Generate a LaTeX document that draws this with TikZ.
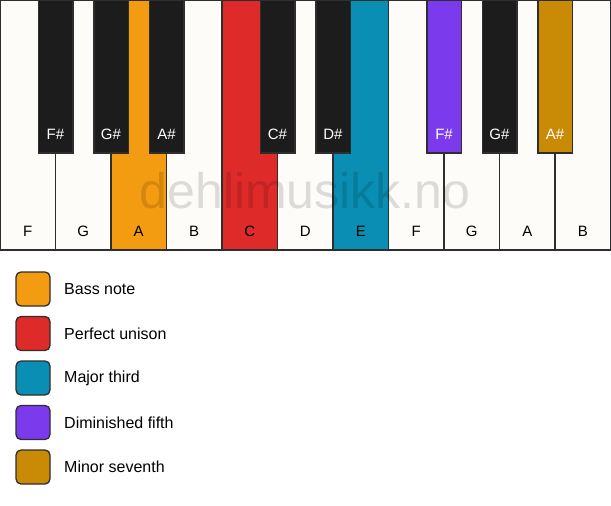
\documentclass[tikz,border=0pt]{standalone}
\usepackage{fontspec}
\setmainfont{Liberation Sans}
\definecolor{wkey}{HTML}{FDFCF9}
\definecolor{bkey}{HTML}{1C1C1C}
\definecolor{edge}{HTML}{2E2E2E}
\definecolor{cbass}{HTML}{F39C12}
\definecolor{cuni}{HTML}{DF2A2A}
\definecolor{cthird}{HTML}{0A8EB3}
\definecolor{cfifth}{HTML}{7C3AED}
\definecolor{cseventh}{HTML}{C98A06}
\tikzset{
  whitekey/.style={draw=edge, line width=1.5pt, fill=wkey, rectangle, anchor=north west, minimum width=55.5pt, minimum height=250pt, inner sep=0pt, outer sep=0pt},
  blackkey/.style={draw=edge, line width=1.5pt, fill=bkey, rectangle, anchor=north, minimum width=34.5pt, minimum height=153pt, inner sep=0pt, outer sep=0pt},
  wlabel/.style={font=\fontsize{15}{18}\selectfont, text=black, anchor=base},
  blabel/.style={font=\fontsize{15}{18}\selectfont, text=white, anchor=base},
  swatch/.style={draw=edge, line width=1.3pt, rounded corners=5pt, minimum width=34pt, minimum height=34pt, inner sep=0pt},
  legtext/.style={font=\fontsize{16}{18}\selectfont, anchor=west, inner sep=0pt}
}
\begin{document}
\begin{tikzpicture}[x=1pt,y=-1pt]
\useasboundingbox (0,0) rectangle (611,506);
\fill[white] (0,0) rectangle (611,506);
% white keys
\foreach \i/\n/\c in {0/F/wkey,1/G/wkey,2/A/cbass,3/B/wkey,4/C/cuni,5/D/wkey,6/E/cthird,7/F/wkey,8/G/wkey,9/A/wkey,10/B/wkey}{
  \node[whitekey, fill=\c] (w\i) at ({\i*55.5},0) {};
  \node[wlabel] (wl\i) at ({\i*55.5+27.75},236) {\n};
}
% watermark
\node[font=\fontsize{50}{54}\selectfont, text=black, text opacity=0.13, anchor=base, inner sep=0pt] (wm) at (305,208) {dehlimusikk.no};
% black keys
\foreach \k/\n/\c in {1/F\#/bkey,2/G\#/bkey,3/A\#/bkey,5/C\#/bkey,6/D\#/bkey,8/F\#/cfifth,9/G\#/bkey,10/A\#/cseventh}{
  \node[blackkey, fill=\c] (b\k) at ({\k*55.5},0) {};
  \node[blabel] (bl\k) at ({\k*55.5},139) {\n};
}
% legend
\foreach \j/\c/\t in {0/cbass/Bass note,1/cuni/Perfect unison,2/cthird/Major third,3/cfifth/Diminished fifth,4/cseventh/Minor seventh}{
  \node[swatch, fill=\c] (s\j) at (33,{289+\j*44.5}) {};
  \node[legtext] (t\j) at (64,{289+\j*44.5}) {\t};
}
\end{tikzpicture}
\end{document}
